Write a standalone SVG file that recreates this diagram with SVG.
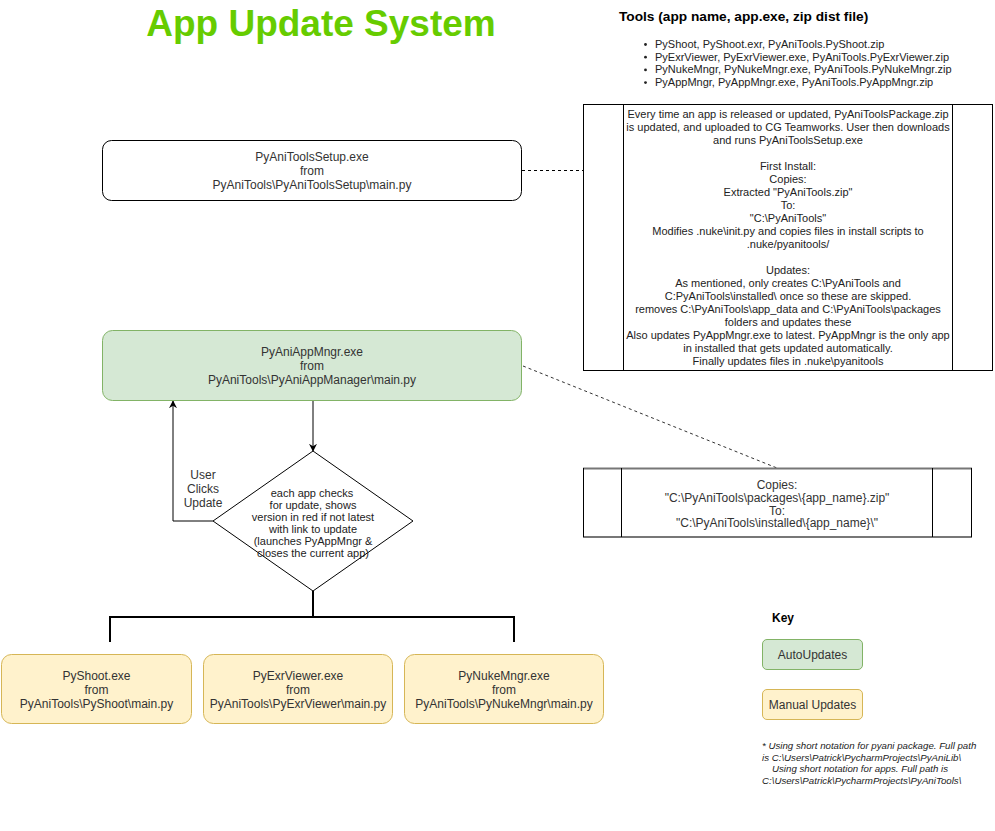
<svg xmlns="http://www.w3.org/2000/svg" width="995" height="831" viewBox="0 0 995 831">
<defs>
<marker id="arr" viewBox="0 0 10 10" refX="9" refY="5" markerWidth="8" markerHeight="8" markerUnits="userSpaceOnUse" orient="auto">
<path d="M0,0 L10,5 L0,10 L3,5 z" fill="#000"/>
</marker>
<style>
text{font-family:"Liberation Sans",Arial,sans-serif;fill:#333;}
.c12{font-size:12px;text-anchor:middle;}
.c11{font-size:11px;text-anchor:middle;fill:#222;}
.l11{font-size:11px;fill:#222;}
.box{fill:#fff;stroke:#000;stroke-width:1;}
.green{fill:#d5e8d4;stroke:#82b366;stroke-width:1;}
.yellow{fill:#fff2cc;stroke:#d6b656;stroke-width:1;}
.edge{fill:none;stroke:#000;stroke-width:1;}
.tree{fill:none;stroke:#000;stroke-width:2;}
.foot{font-size:9.7px;font-style:italic;fill:#222;}
</style>
</defs>
<rect width="995" height="831" fill="#fff"/>

<g id="title">
<text x="321" y="36" style="font-size:37px;font-weight:bold;fill:#66CC00;text-anchor:middle">App Update System</text>
</g>

<g id="tools-list">
<text x="619" y="21" style="font-size:13.7px;font-weight:bold;fill:#000">Tools (app name, app.exe, zip dist file)</text>
<circle cx="645.5" cy="44.5" r="1.4" fill="#222"/>
<circle cx="645.5" cy="57.2" r="1.4" fill="#222"/>
<circle cx="645.5" cy="69.9" r="1.4" fill="#222"/>
<circle cx="645.5" cy="82.6" r="1.4" fill="#222"/>
<text class="l11" x="655" y="48">PyShoot, PyShoot.exr, PyAniTools.PyShoot.zip</text>
<text class="l11" x="655" y="60.7">PyExrViewer, PyExrViewer.exe, PyAniTools.PyExrViewer.zip</text>
<text class="l11" x="655" y="73.4">PyNukeMngr, PyNukeMngr.exe, PyAniTools.PyNukeMngr.zip</text>
<text class="l11" x="655" y="86.1">PyAppMngr, PyAppMngr.exe, PyAniTools.PyAppMngr.zip</text>
</g>

<g id="connectors">
<line x1="522" y1="170.5" x2="583" y2="170.5" stroke="#000" stroke-width="1" stroke-dasharray="3,3"/>
<line x1="523" y1="366" x2="777" y2="468" stroke="#333" stroke-width="1" stroke-dasharray="3,3"/>
<line class="edge" x1="313" y1="400" x2="313" y2="451" marker-end="url(#arr)"/>
<polyline class="edge" points="213,521 173,521 173,401" marker-end="url(#arr)"/>
<polyline class="tree" points="313,591 313,617"/>
<polyline class="tree" points="110,642 110,617 514,617 514,642"/>
</g>

<g id="setup-node">
<rect class="box" x="102.5" y="140.5" width="419" height="60" rx="9"/>
<text class="c12" x="312" y="161">PyAniToolsSetup.exe</text>
<text class="c12" x="312" y="175">from</text>
<text class="c12" x="312" y="189">PyAniTools\PyAniToolsSetup\main.py</text>
</g>

<g id="setup-note">
<rect class="box" x="583.5" y="104.5" width="409" height="266"/>
<line x1="623.5" y1="104.5" x2="623.5" y2="370.5" stroke="#000"/>
<line x1="952.5" y1="104.5" x2="952.5" y2="370.5" stroke="#000"/>
<text class="c11" x="788" y="118">Every time an app is released or updated, PyAniToolsPackage.zip</text>
<text class="c11" x="788" y="131">is updated, and uploaded to CG Teamworks. User then downloads</text>
<text class="c11" x="788" y="144">and runs PyAniToolsSetup.exe</text>
<text class="c11" x="788" y="170">First Install:</text>
<text class="c11" x="788" y="183">Copies:</text>
<text class="c11" x="788" y="196">Extracted "PyAniTools.zip"</text>
<text class="c11" x="788" y="209">To:</text>
<text class="c11" x="788" y="222">"C:\PyAniTools"</text>
<text class="c11" x="788" y="235">Modifies .nuke\init.py and copies files in install scripts to</text>
<text class="c11" x="788" y="248">.nuke/pyanitools/</text>
<text class="c11" x="788" y="274">Updates:</text>
<text class="c11" x="788" y="287">As mentioned, only creates C:\PyAniTools and</text>
<text class="c11" x="788" y="300">C:PyAniTools\installed\ once so these are skipped.</text>
<text class="c11" x="788" y="313">removes C:\PyAniTools\app_data and C:\PyAniTools\packages</text>
<text class="c11" x="788" y="326">folders and updates these</text>
<text class="c11" x="788" y="339">Also updates PyAppMngr.exe to latest. PyAppMngr is the only app</text>
<text class="c11" x="788" y="352">in installed that gets updated automatically.</text>
<text class="c11" x="788" y="365">Finally updates files in .nuke\pyanitools</text>
</g>

<g id="appmngr-node">
<rect class="green" x="102.5" y="330.5" width="419" height="70" rx="10"/>
<text class="c12" x="312" y="356">PyAniAppMngr.exe</text>
<text class="c12" x="312" y="370">from</text>
<text class="c12" x="312" y="384">PyAniTools\PyAniAppManager\main.py</text>
</g>

<g id="copies-note">
<line x1="583" y1="468.5" x2="972" y2="468.5" stroke="#777" stroke-width="2"/>
<line x1="583" y1="537" x2="972" y2="537" stroke="#777" stroke-width="2"/>
<line x1="583.5" y1="468" x2="583.5" y2="537" stroke="#000"/>
<line x1="971.5" y1="468" x2="971.5" y2="537" stroke="#000"/>
<line x1="621.5" y1="468" x2="621.5" y2="537" stroke="#000"/>
<line x1="932.5" y1="468" x2="932.5" y2="537" stroke="#000"/>
<text class="c12" x="777" y="489">Copies:</text>
<text class="c12" x="777" y="502">"C:\PyAniTools\packages\{app_name}.zip"</text>
<text class="c12" x="777" y="514.5">To:</text>
<text class="c12" x="777" y="527">"C:\PyAniTools\installed\{app_name}\"</text>
</g>

<g id="check-decision">
<polygon points="313,451 413,521 313,591 213,521" fill="#fff" stroke="#000" stroke-width="1"/>
<text class="c11" x="312" y="497">each app checks</text>
<text class="c11" x="313" y="509">for update, shows</text>
<text class="c11" x="313" y="521">version in red if not latest</text>
<text class="c11" x="313" y="533">with link to update</text>
<text class="c11" x="313" y="545">(launches PyAppMngr  &amp;</text>
<text class="c11" x="313" y="557">closes the current app)</text>
</g>

<g id="user-clicks-label">
<text class="c12" x="203" y="479">User</text>
<text class="c12" x="203" y="493">Clicks</text>
<text class="c12" x="203" y="507">Update</text>
</g>

<g id="pyshoot-node">
<rect class="yellow" x="1.5" y="654.5" width="190" height="69" rx="10"/>
<text class="c12" x="96.5" y="680">PyShoot.exe</text>
<text class="c12" x="96.5" y="694">from</text>
<text class="c12" x="96.5" y="708">PyAniTools\PyShoot\main.py</text>
</g>

<g id="pyexrviewer-node">
<rect class="yellow" x="203.5" y="654.5" width="189" height="69" rx="10"/>
<text class="c12" x="298" y="680">PyExrViewer.exe</text>
<text class="c12" x="298" y="694">from</text>
<text class="c12" x="298" y="708">PyAniTools\PyExrViewer\main.py</text>
</g>

<g id="pynukemngr-node">
<rect class="yellow" x="404.5" y="654.5" width="199" height="69" rx="10"/>
<text class="c12" x="504" y="680">PyNukeMngr.exe</text>
<text class="c12" x="504" y="694">from</text>
<text class="c12" x="504" y="708">PyAniTools\PyNukeMngr\main.py</text>
</g>

<g id="key">
<text x="772" y="622" style="font-size:12px;font-weight:bold;fill:#000">Key</text>
<rect class="green" x="762.5" y="639.5" width="100" height="30" rx="4.5"/>
<text class="c12" x="812.5" y="659">AutoUpdates</text>
<rect class="yellow" x="762.5" y="689.5" width="100" height="30" rx="4.5"/>
<text class="c12" x="812.5" y="709">Manual Updates</text>
</g>

<g id="footnote">
<text class="foot" x="762" y="749">* Using short notation for pyani package. Full path</text>
<text class="foot" x="762" y="760.5">is C:\Users\Patrick\PycharmProjects\PyAniLib\</text>
<text class="foot" x="772" y="772">Using short notation for apps. Full path is</text>
<text class="foot" x="762" y="783.5">C:\Users\Patrick\PycharmProjects\PyAniTools\</text>
</g>
</svg>
